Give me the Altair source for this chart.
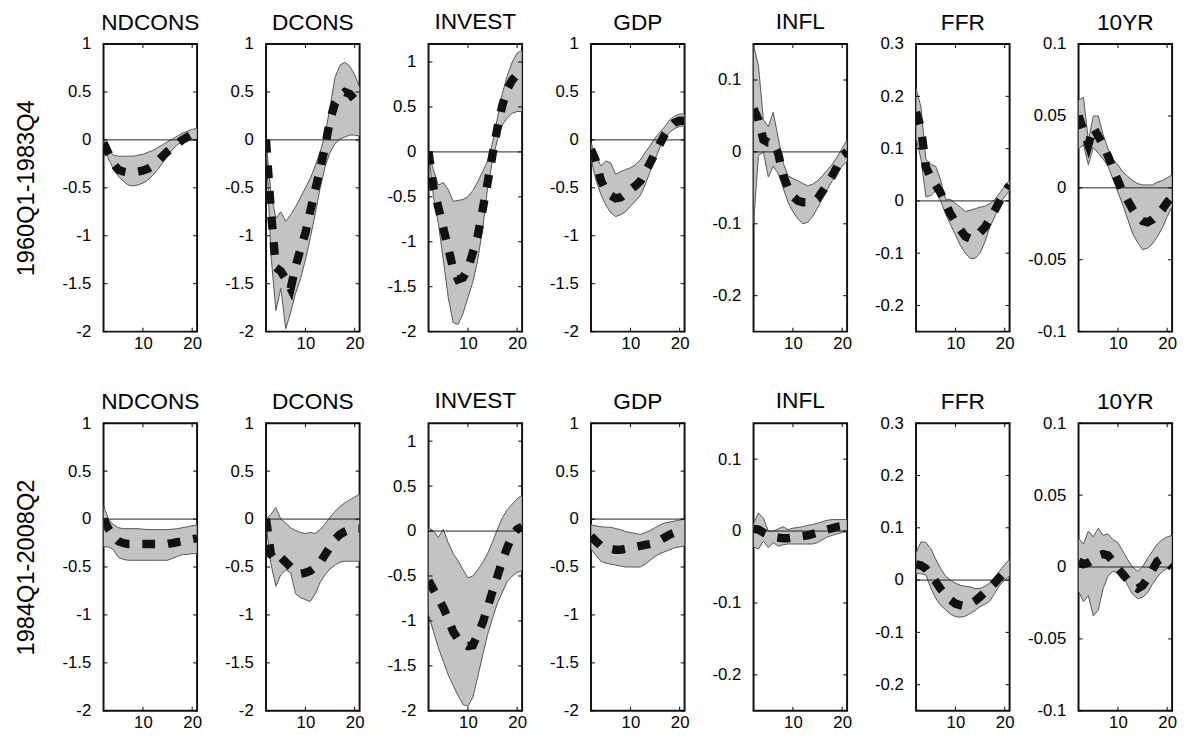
import altair as alt
import pandas as pd

FONT = "Liberation Sans"
H = list(range(2, 22))
VARS = ["NDCONS", "DCONS", "INVEST", "GDP", "INFL", "FFR", "10YR"]
PERIODS = ["1960Q1-1983Q4", "1984Q1-2008Q2"]
XTICKS = [10, 20]

YDOM = {
    "NDCONS": [-2, 1], "DCONS": [-2, 1], "INVEST": [-2, 1.2], "GDP": [-2, 1],
    "INFL": [-0.25, 0.15], "FFR": [-0.25, 0.3], "10YR": [-0.1, 0.1],
}
YTICKS = {
    "NDCONS": [-2, -1.5, -1, -0.5, 0, 0.5, 1],
    "DCONS": [-2, -1.5, -1, -0.5, 0, 0.5, 1],
    "INVEST": [-2, -1.5, -1, -0.5, 0, 0.5, 1],
    "GDP": [-2, -1.5, -1, -0.5, 0, 0.5, 1],
    "INFL": [-0.2, -0.1, 0, 0.1],
    "FFR": [-0.2, -0.1, 0, 0.1, 0.2, 0.3],
    "10YR": [-0.1, -0.05, 0, 0.05, 0.1],
}

# ---- 1960Q1-1983Q4 ----
NDCONS_1_mean = [-0.03, -0.14, -0.25, -0.31, -0.33, -0.34, -0.34, -0.33, -0.32, -0.30, -0.27, -0.22, -0.17, -0.12, -0.08, -0.04, 0.00, 0.03, 0.06, 0.08]
NDCONS_1_hi = [0.0, -0.10, -0.16, -0.17, -0.17, -0.17, -0.17, -0.16, -0.15, -0.13, -0.11, -0.08, -0.05, -0.02, 0.01, 0.04, 0.07, 0.09, 0.11, 0.12]
NDCONS_1_lo = [-0.05, -0.20, -0.30, -0.38, -0.43, -0.47, -0.48, -0.47, -0.45, -0.42, -0.37, -0.31, -0.24, -0.17, -0.10, -0.05, -0.02, -0.01, 0.0, 0.0]

DCONS_1_mean = [0.0, -0.75, -1.33, -1.37, -1.45, -1.55, -1.32, -1.14, -0.97, -0.74, -0.52, -0.30, -0.07, 0.21, 0.38, 0.46, 0.50, 0.48, 0.42, 0.33]
DCONS_1_hi = [0.0, -0.55, -0.82, -0.75, -0.85, -0.78, -0.70, -0.60, -0.50, -0.40, -0.27, -0.12, 0.05, 0.35, 0.65, 0.78, 0.81, 0.77, 0.68, 0.55]
DCONS_1_lo = [0.0, -1.20, -1.78, -1.55, -1.97, -1.80, -1.60, -1.45, -1.25, -1.02, -0.77, -0.50, -0.28, -0.13, -0.04, 0.01, 0.03, 0.05, 0.05, 0.04]

INVEST_1_mean = [0.0, -0.40, -0.62, -0.85, -1.07, -1.30, -1.42, -1.40, -1.30, -1.12, -0.93, -0.64, -0.34, -0.03, 0.27, 0.52, 0.70, 0.80, 0.86, 0.88]
INVEST_1_hi = [0.0, -0.20, -0.37, -0.34, -0.42, -0.55, -0.54, -0.53, -0.50, -0.43, -0.33, -0.22, -0.10, 0.10, 0.38, 0.65, 0.85, 1.00, 1.10, 1.13]
INVEST_1_lo = [0.0, -0.50, -0.80, -1.20, -1.62, -1.90, -1.92, -1.80, -1.62, -1.45, -1.20, -0.85, -0.40, -0.10, 0.14, 0.30, 0.38, 0.43, 0.45, 0.45]

GDP_1_mean = [-0.10, -0.22, -0.42, -0.53, -0.58, -0.61, -0.60, -0.56, -0.52, -0.48, -0.43, -0.34, -0.24, -0.14, -0.04, 0.06, 0.13, 0.18, 0.20, 0.20]
GDP_1_hi = [-0.03, -0.17, -0.27, -0.22, -0.24, -0.36, -0.33, -0.31, -0.29, -0.26, -0.21, -0.13, -0.06, 0.02, 0.08, 0.14, 0.21, 0.25, 0.27, 0.27]
GDP_1_lo = [-0.20, -0.42, -0.57, -0.68, -0.76, -0.80, -0.78, -0.75, -0.69, -0.64, -0.58, -0.47, -0.33, -0.20, -0.08, 0.02, 0.08, 0.12, 0.14, 0.15]

INFL_1_mean = [0.06, 0.045, 0.017, 0.013, 0.013, -0.002, -0.032, -0.05, -0.062, -0.068, -0.07, -0.07, -0.07, -0.065, -0.055, -0.045, -0.033, -0.02, -0.005, 0.0]
INFL_1_hi = [0.148, 0.12, 0.045, 0.035, 0.055, 0.02, -0.015, -0.033, -0.037, -0.04, -0.044, -0.047, -0.045, -0.04, -0.033, -0.025, -0.017, -0.007, 0.005, 0.017]
INFL_1_lo = [-0.10, -0.005, 0.0, -0.035, -0.02, -0.03, -0.05, -0.07, -0.083, -0.093, -0.10, -0.098, -0.09, -0.078, -0.065, -0.052, -0.04, -0.03, -0.02, -0.013]

FFR_1_mean = [0.17, 0.14, 0.065, 0.045, 0.03, 0.015, -0.005, -0.025, -0.04, -0.055, -0.068, -0.072, -0.07, -0.06, -0.05, -0.035, -0.018, 0.0, 0.017, 0.03]
FFR_1_hi = [0.215, 0.18, 0.08, 0.07, 0.066, 0.04, 0.003, 0.003, -0.005, -0.012, -0.02, -0.018, -0.015, -0.012, -0.01, -0.005, 0.003, 0.015, 0.028, 0.04]
FFR_1_lo = [0.12, 0.08, 0.008, 0.01, 0.02, 0.0, -0.025, -0.045, -0.065, -0.085, -0.10, -0.11, -0.11, -0.10, -0.078, -0.05, -0.03, -0.005, 0.008, 0.02]

TENYR_1_mean = [0.05, 0.04, 0.03, 0.042, 0.036, 0.03, 0.022, 0.013, 0.005, -0.003, -0.009, -0.015, -0.02, -0.023, -0.024, -0.022, -0.019, -0.015, -0.01, -0.006]
TENYR_1_hi = [0.061, 0.063, 0.033, 0.05, 0.05, 0.037, 0.027, 0.02, 0.016, 0.011, 0.008, 0.005, 0.003, 0.002, 0.002, 0.002, 0.004, 0.005, 0.007, 0.009]
TENYR_1_lo = [0.027, 0.03, 0.016, 0.028, 0.024, 0.02, 0.015, 0.006, -0.003, -0.012, -0.022, -0.032, -0.038, -0.043, -0.042, -0.039, -0.034, -0.028, -0.02, -0.013]

# ---- 1984Q1-2008Q2 ----
NDCONS_2_mean = [0.0, -0.10, -0.18, -0.23, -0.25, -0.26, -0.26, -0.26, -0.26, -0.26, -0.26, -0.26, -0.26, -0.26, -0.25, -0.24, -0.23, -0.22, -0.21, -0.20]
NDCONS_2_hi = [0.14, 0.0, -0.06, -0.09, -0.10, -0.10, -0.10, -0.10, -0.105, -0.11, -0.11, -0.11, -0.11, -0.11, -0.105, -0.10, -0.09, -0.08, -0.07, -0.06]
NDCONS_2_lo = [-0.29, -0.29, -0.32, -0.40, -0.42, -0.43, -0.43, -0.43, -0.43, -0.43, -0.43, -0.43, -0.43, -0.43, -0.41, -0.39, -0.37, -0.37, -0.36, -0.36]

DCONS_2_mean = [0.0, -0.37, -0.44, -0.40, -0.45, -0.50, -0.55, -0.57, -0.56, -0.54, -0.50, -0.45, -0.37, -0.29, -0.21, -0.16, -0.13, -0.11, -0.10, -0.10]
DCONS_2_hi = [0.0, 0.05, 0.12, 0.0, -0.04, -0.09, -0.12, -0.14, -0.15, -0.14, -0.15, -0.11, -0.05, 0.02, 0.08, 0.13, 0.17, 0.20, 0.23, 0.26]
DCONS_2_lo = [-0.05, -0.47, -0.70, -0.58, -0.53, -0.56, -0.78, -0.82, -0.84, -0.86, -0.78, -0.66, -0.58, -0.52, -0.48, -0.45, -0.44, -0.44, -0.44, -0.44]

INVEST_2_mean = [-0.55, -0.65, -0.75, -0.85, -0.98, -1.12, -1.20, -1.25, -1.28, -1.27, -1.15, -1.02, -0.85, -0.67, -0.50, -0.33, -0.18, -0.05, 0.02, 0.05]
INVEST_2_hi = [0.04, 0.0, -0.07, 0.02, -0.13, -0.25, -0.33, -0.43, -0.52, -0.50, -0.43, -0.35, -0.25, -0.12, 0.02, 0.15, 0.24, 0.30, 0.36, 0.40]
INVEST_2_lo = [-0.93, -1.12, -1.30, -1.45, -1.60, -1.72, -1.83, -1.93, -1.95, -1.85, -1.62, -1.38, -1.15, -0.97, -0.80, -0.68, -0.56, -0.50, -0.46, -0.44]

GDP_2_mean = [-0.18, -0.23, -0.28, -0.30, -0.31, -0.32, -0.32, -0.31, -0.30, -0.29, -0.28, -0.27, -0.26, -0.24, -0.22, -0.19, -0.16, -0.14, -0.13, -0.12]
GDP_2_hi = [-0.06, -0.07, -0.08, -0.085, -0.085, -0.10, -0.11, -0.13, -0.14, -0.15, -0.16, -0.14, -0.12, -0.09, -0.06, -0.04, -0.03, -0.02, -0.01, 0.0]
GDP_2_lo = [-0.31, -0.38, -0.44, -0.46, -0.47, -0.48, -0.49, -0.50, -0.50, -0.50, -0.50, -0.47, -0.43, -0.39, -0.36, -0.34, -0.32, -0.30, -0.29, -0.28]

INFL_2_mean = [0.003, 0.002, -0.002, -0.005, -0.008, -0.009, -0.010, -0.010, -0.009, -0.008, -0.007, -0.006, -0.004, -0.002, 0.0, 0.002, 0.004, 0.006, 0.007, 0.008]
INFL_2_hi = [0.01, 0.025, 0.018, 0.0, 0.0, 0.003, 0.006, 0.002, 0.004, 0.005, 0.006, 0.008, 0.009, 0.011, 0.013, 0.015, 0.016, 0.016, 0.016, 0.016]
INFL_2_lo = [-0.022, -0.025, -0.014, -0.023, -0.016, -0.021, -0.019, -0.018, -0.018, -0.018, -0.018, -0.018, -0.018, -0.016, -0.012, -0.008, -0.006, -0.004, -0.002, -0.001]

FFR_2_mean = [0.03, 0.028, 0.022, 0.01, -0.003, -0.017, -0.028, -0.038, -0.045, -0.048, -0.05, -0.046, -0.04, -0.032, -0.023, -0.014, -0.005, 0.005, 0.015, 0.022]
FFR_2_hi = [0.052, 0.073, 0.072, 0.06, 0.04, 0.022, 0.008, 0.0, -0.006, -0.01, -0.012, -0.013, -0.016, -0.016, -0.012, -0.005, 0.006, 0.018, 0.03, 0.04]
FFR_2_lo = [0.013, 0.012, 0.01, -0.015, -0.035, -0.048, -0.057, -0.065, -0.07, -0.071, -0.069, -0.064, -0.058, -0.051, -0.046, -0.04, -0.025, -0.01, 0.0, 0.008]

TENYR_2_mean = [0.004, 0.002, 0.003, 0.005, 0.008, 0.009, 0.008, 0.004, -0.001, -0.005, -0.009, -0.013, -0.015, -0.013, -0.008, -0.002, 0.004, 0.006, 0.003, 0.0]
TENYR_2_hi = [0.02, 0.016, 0.025, 0.021, 0.027, 0.022, 0.023, 0.019, 0.017, 0.011, 0.005, 0.0, -0.003, 0.0, 0.006, 0.011, 0.016, 0.019, 0.021, 0.022]
TENYR_2_lo = [-0.017, -0.024, -0.02, -0.034, -0.03, -0.015, -0.006, -0.003, -0.004, -0.006, -0.013, -0.019, -0.022, -0.021, -0.018, -0.012, -0.007, -0.003, -0.001, 0.0]

SERIES = {
    (0, "NDCONS"): (NDCONS_1_mean, NDCONS_1_lo, NDCONS_1_hi),
    (0, "DCONS"): (DCONS_1_mean, DCONS_1_lo, DCONS_1_hi),
    (0, "INVEST"): (INVEST_1_mean, INVEST_1_lo, INVEST_1_hi),
    (0, "GDP"): (GDP_1_mean, GDP_1_lo, GDP_1_hi),
    (0, "INFL"): (INFL_1_mean, INFL_1_lo, INFL_1_hi),
    (0, "FFR"): (FFR_1_mean, FFR_1_lo, FFR_1_hi),
    (0, "10YR"): (TENYR_1_mean, TENYR_1_lo, TENYR_1_hi),
    (1, "NDCONS"): (NDCONS_2_mean, NDCONS_2_lo, NDCONS_2_hi),
    (1, "DCONS"): (DCONS_2_mean, DCONS_2_lo, DCONS_2_hi),
    (1, "INVEST"): (INVEST_2_mean, INVEST_2_lo, INVEST_2_hi),
    (1, "GDP"): (GDP_2_mean, GDP_2_lo, GDP_2_hi),
    (1, "INFL"): (INFL_2_mean, INFL_2_lo, INFL_2_hi),
    (1, "FFR"): (FFR_2_mean, FFR_2_lo, FFR_2_hi),
    (1, "10YR"): (TENYR_2_mean, TENYR_2_lo, TENYR_2_hi),
}

W, HT = 95, 292
TK = 4
LABEL_EXPR = "(datum.value < 0 ? '-' : '') + format(abs(datum.value), '~g')"


def panel(r, var, first):
    mean, lo, hi = SERIES[(r, var)]
    df = pd.DataFrame({"h": H, "mean": mean, "lo": lo, "hi": hi})
    xs = alt.Scale(domain=[2, 21], nice=False, zero=False)
    ys = alt.Scale(domain=YDOM[var], nice=False, zero=False)
    xaxis = alt.Axis(values=XTICKS, title=None, ticks=False, domain=False, grid=False,
                     labelFont=FONT, labelFontSize=17, labelColor="#000", labelPadding=4,
                     labelFlush=False, labelOverlap=False)
    yargs = dict(values=YTICKS[var], ticks=False, domain=False, grid=False,
                 labelFont=FONT, labelFontSize=17, labelColor="#000", labelPadding=13,
                 labelFlush=False, labelOverlap=False, labelExpr=LABEL_EXPR)
    if first:
        yaxis = alt.Axis(title=PERIODS[r], titleFont=FONT, titleFontSize=24,
                         titleFontWeight="normal", titleColor="#000", titlePadding=24, **yargs)
    else:
        yaxis = alt.Axis(title=None, **yargs)

    def X(f):
        return alt.X(f, scale=xs, axis=xaxis)

    def Y(f):
        return alt.Y(f, scale=ys, axis=yaxis)

    base = alt.Chart(df)
    band = base.mark_area(fill="#c3c3c5", stroke="#555555", strokeWidth=1, opacity=1,
                          clip=True).encode(x=X("h:Q"), y=Y("lo:Q"), y2="hi:Q")
    zero = alt.Chart(pd.DataFrame({"z": [0]})).mark_rule(color="#222222", strokeWidth=1).encode(
        y=Y("z:Q"))
    line = base.mark_line(color="#111111", strokeWidth=8.5, strokeDash=[13, 13],
                          strokeCap="butt", clip=True).encode(x=X("h:Q"), y=Y("mean:Q"))
    yt = alt.Chart(pd.DataFrame({"t": YTICKS[var]}))
    xt = alt.Chart(pd.DataFrame({"t": XTICKS}))
    tl = yt.mark_rule(color="#000", strokeWidth=1).encode(
        y=Y("t:Q"), x=alt.value(0), x2=alt.value(TK))
    tr = yt.mark_rule(color="#000", strokeWidth=1).encode(
        y=Y("t:Q"), x=alt.value(W - TK), x2=alt.value(W))
    tb = xt.mark_rule(color="#000", strokeWidth=1).encode(
        x=X("t:Q"), y=alt.value(HT - TK), y2=alt.value(HT))
    tt = xt.mark_rule(color="#000", strokeWidth=1).encode(
        x=X("t:Q"), y=alt.value(0), y2=alt.value(TK))
    # a tick label sitting on the top frame pushes the title up; compensate
    off = 0 if YTICKS[var][-1] == YDOM[var][1] else 10
    return alt.layer(band, zero, line, tl, tr, tb, tt).properties(
        width=W, height=HT,
        title=alt.TitleParams(var, font=FONT, fontSize=23, fontWeight="normal",
                              color="#000", offset=off),
    )


panels = []
for r in range(2):
    for i, v in enumerate(VARS):
        panels.append(panel(r, v, i == 0))

chart = alt.concat(*panels, columns=7, spacing={"row": 93, "column": 70},
                   bounds="flush").properties(
    padding={"left": 5, "top": -4, "right": 0, "bottom": 0},
    background="white",
).configure_view(stroke="#111111", strokeWidth=2)

chart.save("out.html", embed_options={"renderer": "svg", "actions": False})
